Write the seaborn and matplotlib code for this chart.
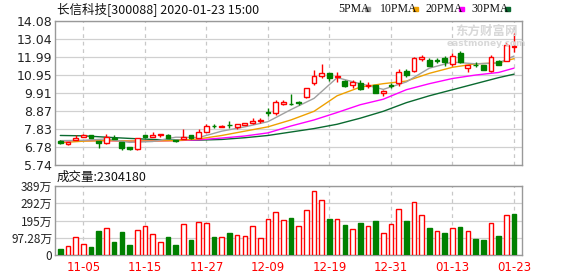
import numpy as np
import pandas as pd
import matplotlib
matplotlib.use("Agg")
import matplotlib.pyplot as plt
import seaborn as sns

sns.set_theme(style="white")
plt.rcParams['font.family'] = ['Noto Sans CJK SC', 'DejaVu Sans']

# ---------------- data ----------------
dates = ["10-31", "11-01", "11-04", "11-05", "11-06", "11-07", "11-08", "11-11", "11-12", "11-13",
         "11-14", "11-15", "11-18", "11-19", "11-20", "11-21", "11-22", "11-25", "11-26", "11-27",
         "11-28", "11-29", "12-02", "12-03", "12-04", "12-05", "12-06", "12-09", "12-10", "12-11",
         "12-12", "12-13", "12-16", "12-17", "12-18", "12-19", "12-20", "12-23", "12-24", "12-25",
         "12-26", "12-27", "12-30", "12-31", "01-02", "01-03", "01-06", "01-07", "01-08", "01-09",
         "01-10", "01-13", "01-14", "01-15", "01-16", "01-17", "01-20", "01-21", "01-22", "01-23"]
date_labels = ["11-05", "11-15", "11-27", "12-09", "12-19", "12-31", "01-13", "01-23"]

opens = [7.15, 6.96, 7.18, 7.36, 7.49, 7.11, 7.00, 7.32, 7.07, 6.76,
         6.66, 7.46, 7.36, 7.48, 7.50, 7.16, 7.26, 7.45, 7.32, 7.66,
         8.00, 7.96, 8.08, 7.93, 8.07, 8.15, 8.30, 8.80, 8.76, 9.26,
         9.30, 9.36, 9.68, 10.49, 10.87, 11.06, 10.84, 10.62, 10.38, 10.49,
         10.29, 10.39, 9.91, 10.35, 10.49, 11.20, 11.20, 11.88, 11.84, 11.80,
         11.93, 11.59, 12.20, 11.34, 11.55, 11.53, 11.20, 11.78, 11.78, 12.60]
highs = [7.16, 7.08, 7.50, 7.53, 7.50, 7.12, 7.55, 7.50, 7.08, 6.78,
         7.31, 7.50, 7.68, 7.53, 7.52, 7.20, 7.80, 7.47, 7.80, 8.11,
         8.10, 8.08, 8.26, 8.12, 8.20, 8.45, 8.45, 9.03, 9.53, 9.49,
         9.88, 9.43, 10.22, 11.22, 11.60, 11.08, 11.14, 10.66, 10.64, 10.68,
         10.56, 10.40, 10.10, 10.49, 11.30, 11.31, 11.97, 12.12, 11.91, 11.91,
         12.07, 12.20, 12.36, 11.55, 11.68, 11.55, 12.11, 11.80, 12.84, 13.36]
lows = [6.98, 6.88, 7.16, 7.35, 7.29, 6.71, 6.96, 7.25, 6.60, 6.61,
        6.62, 7.33, 7.35, 7.38, 7.28, 7.08, 7.24, 7.25, 7.30, 7.64,
        7.90, 7.92, 7.88, 7.80, 8.05, 8.12, 8.19, 8.57, 8.61, 9.22,
        9.22, 9.22, 9.60, 10.39, 10.78, 10.58, 10.52, 10.27, 10.22, 10.06,
        10.18, 9.90, 9.72, 10.20, 10.29, 10.83, 11.14, 11.78, 11.45, 11.64,
        11.49, 11.45, 11.64, 11.14, 11.39, 11.22, 11.10, 11.53, 11.76, 12.26]
closes = [7.02, 7.07, 7.30, 7.47, 7.30, 6.99, 7.35, 7.27, 6.70, 6.66,
          7.30, 7.37, 7.46, 7.52, 7.30, 7.12, 7.38, 7.29, 7.65, 8.00,
          7.97, 8.00, 8.05, 8.11, 8.18, 8.30, 8.34, 8.74, 9.38, 9.41,
          9.26, 9.33, 10.20, 10.87, 11.08, 10.78, 10.88, 10.29, 10.52, 10.14,
          10.39, 9.91, 10.00, 10.32, 11.12, 10.93, 11.91, 12.01, 11.49, 11.77,
          11.68, 12.07, 11.68, 11.53, 11.52, 11.26, 11.99, 11.55, 12.70, 12.64]

volumes = [340000, 490000, 1000000, 600000, 450000, 1350000, 1500000, 730000, 1300000, 560000,
           1410000, 1620000, 1170000, 710000, 1020000, 560000, 1730000, 860000, 1860000, 1790000,
           1020000, 1020000, 1240000, 1110000, 1050000, 1620000, 940000, 2010000, 2410000, 1970000,
           2090000, 1620000, 2520000, 3590000, 3080000, 2030000, 2010000, 1690000, 1450000, 1800000,
           1620000, 1920000, 1220000, 1730000, 2580000, 1920000, 2970000, 2240000, 1520000, 1330000,
           1240000, 1500000, 1580000, 1330000, 900000, 850000, 1790000, 1070000, 2240000, 2304180]
vol_up = [0, 1, 1, 1, 0, 0, 1, 0, 0, 0,
          1, 1, 1, 1, 0, 0, 1, 0, 1, 1,
          0, 1, 0, 1, 1, 1, 1, 1, 1, 1,
          0, 1, 1, 1, 1, 0, 1, 0, 1, 0,
          1, 0, 1, 1, 1, 0, 1, 1, 0, 1,
          0, 1, 0, 1, 0, 0, 1, 0, 1, 0]

# moving averages at every third session (and the last)
ma_days = [0, 3, 6, 9, 12, 15, 18, 21, 24, 27, 30, 33, 36, 39, 42, 45, 48, 51, 54, 57, 59]
ma5 = [7.15, 7.17, 7.25, 7.05, 7.10, 7.35, 7.33, 7.70, 7.95, 8.25, 8.95,
       9.60, 10.80, 10.45, 10.12, 10.55, 11.35, 11.70, 11.60, 11.65, 12.05]
ma10 = [7.03, 7.12, 7.15, 7.13, 7.13, 7.15, 7.25, 7.45, 7.70, 7.95, 8.35,
        8.85, 9.75, 10.25, 10.45, 10.60, 11.05, 11.40, 11.60, 11.65, 11.90]
ma20 = [7.13, 7.15, 7.15, 7.12, 7.13, 7.15, 7.20, 7.30, 7.42, 7.60, 8.00,
        8.35, 8.78, 9.23, 9.55, 10.10, 10.45, 10.75, 10.95, 11.10, 11.35]
ma30 = [7.45, 7.43, 7.35, 7.28, 7.22, 7.18, 7.18, 7.22, 7.32, 7.45, 7.65,
        7.85, 8.10, 8.45, 8.85, 9.35, 9.75, 10.10, 10.45, 10.80, 11.00]

price_ticks = [5.74, 6.78, 7.83, 8.87, 9.91, 10.95, 11.99, 13.04, 14.08]
vol_ticks = [0, 972800, 1945600, 2918400, 3891200]
vol_tick_labels = ["0", "97.28万", "195万", "292万", "389万"]
title_text = "长信科技[300088] 2020-01-23 15:00"
vol_title = "成交量:2304180"
ma_names = ["5PMA", "10PMA", "20PMA", "30PMA"]

# ---------------- styling ----------------
RED = "#ff0000"
GREEN = "#008000"
MA_COLORS = ["#a0a0a0", "#eea000", "#ff00ff", "#0a6a30"]
GRID = "#d0d0d0"
SPINE = "#999999"

W, H = 578, 276
fig = plt.figure(figsize=(W / 100, H / 100), dpi=100)
fig.patch.set_facecolor("white")
L, R = 55, 522
ax = fig.add_axes([L / W, 1 - 165 / H, (R - L) / W, (165 - 21) / H])
axv = fig.add_axes([L / W, 1 - 255 / H, (R - L) / W, (255 - 186) / H])

df = pd.DataFrame({"date": dates, "open": opens, "high": highs, "low": lows,
                   "close": closes, "volume": volumes, "vol_up": vol_up})
df["i"] = np.arange(len(df))
label_pos = [dates.index(d) for d in date_labels]

xmin, xmax = -0.69, 60.04
for a in (ax, axv):
    a.set_xlim(xmin, xmax)
    for s in a.spines.values():
        s.set_color(SPINE)
        s.set_linewidth(1.0)
    for p in label_pos:
        a.axvline(p, color="#c8c8c8", lw=0.9, ls=(0, (3, 3)), zorder=0)
    a.tick_params(length=0, pad=2)
    a.grid(False)

# price grid
for t in price_ticks:
    ax.axhline(t, color=GRID, lw=0.9, zorder=0)
ax.set_ylim(5.74, 14.08)
ax.set_yticks(price_ticks)
ax.set_yticklabels([f"{t:.2f}" for t in price_ticks], fontsize=9, color="#222222",
                   family=["DejaVu Sans"])
ax.set_xticks([])

# moving averages (seaborn)
for vals, col in zip([ma30, ma20, ma10, ma5], [MA_COLORS[3], MA_COLORS[2], MA_COLORS[1], MA_COLORS[0]]):
    sns.lineplot(x=ma_days, y=vals, ax=ax, color=col, lw=1.0, zorder=2)

# candles
bw = 0.62
for _, r in df.iterrows():
    up = r["close"] >= r["open"]
    col = RED if up else GREEN
    ax.vlines(r["i"], r["low"], r["high"], color=col, lw=1.0, zorder=3)
    lo = min(r["open"], r["close"])
    hgt = max(abs(r["close"] - r["open"]), 0.025)
    ax.bar(r["i"], hgt, bottom=lo, width=bw, facecolor="white" if up else GREEN,
           edgecolor=col, lw=1.0, zorder=4)
ax.set_xlabel("")
ax.set_ylabel("")

# volume
for t in vol_ticks:
    axv.axhline(t, color=GRID, lw=0.9, zorder=0)
for _, r in df.iterrows():
    up = r["vol_up"] == 1
    axv.bar(r["i"], r["volume"], width=0.6, facecolor="white" if up else GREEN,
            edgecolor=RED if up else GREEN, lw=1.0, zorder=3)
axv.set_ylim(0, 3891200)
axv.set_yticks(vol_ticks)
axv.set_yticklabels(vol_tick_labels, fontsize=8.5, color="#222222")
axv.set_xticks(label_pos)
axv.set_xticklabels(date_labels, fontsize=8.5, color=RED, family=["DejaVu Sans"])
axv.tick_params(axis="x", pad=4)

# texts
fig.text(57 / W, 1 - 9 / H, title_text, fontsize=9, va="center", ha="left", color="#111111")
fig.text(57 / W, 1 - 177 / H, vol_title, fontsize=9, va="center", ha="left", color="#111111")

leg_x = [338, 380, 425, 471]
mark_x = [365, 413, 459, 505]
for name, tx, mx, col in zip(ma_names, leg_x, mark_x, MA_COLORS):
    fig.text(tx / W, 1 - 9 / H, name, fontsize=8.5, va="center", ha="left",
             color="#111111", family=["Liberation Serif"])
    fig.add_artist(plt.Rectangle((mx / W, 1 - 10.5 / H), 5 / W, 3 / H,
                                 transform=fig.transFigure, color=col))

# watermark
fig.text(487 / W, 1 - 31 / H, "东方财富网", fontsize=9, fontweight="bold",
         color="#d8d8d8", ha="center", va="center", zorder=1)
fig.text(486 / W, 1 - 43.5 / H, "eastmoney.com", fontsize=6.5, fontweight="bold",
         color="#d8d8d8", ha="center", va="center", family=["DejaVu Sans"], zorder=1)

fig.savefig("out.png", dpi=100)
